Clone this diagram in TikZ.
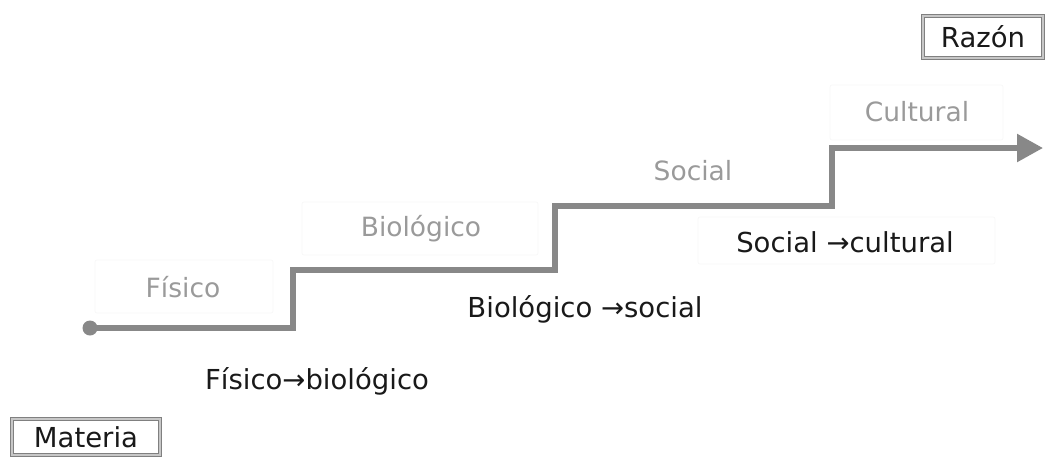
\documentclass[tikz,border=0pt]{standalone}
\usepackage{fontspec}
\setmainfont{DejaVu Sans}
\usetikzlibrary{arrows.meta}
\definecolor{stair}{HTML}{888888}
\definecolor{faint}{HTML}{9A9A9A}
\definecolor{faintbox}{HTML}{F6F6F6}
\tikzset{
  stage/.style={text=faint, font=\fontsize{26.5}{30}\selectfont, inner sep=0pt},
  trans/.style={text=black!90, font=\fontsize{27.5}{31}\selectfont, inner sep=0pt},
  framebox/.style={draw=black!50, line width=1.5pt, double=black!22, double distance=1.8pt, fill=white, font=\fontsize{27.5}{31}\selectfont, text=black!90},
  ghost/.style={draw=faintbox, line width=0.6pt, rounded corners=2pt},
  stairline/.style={draw=stair, line width=5.5pt},
}
\begin{document}
\begin{tikzpicture}[x=1pt,y=-1pt]
\useasboundingbox (0,0) rectangle (1051,461);
% faint boxes
\draw[ghost] (95,260) rectangle (273,313);
\draw[ghost] (302,202) rectangle (538,255);
\draw[ghost] (698,217) rectangle (995,264);
\draw[ghost] (830,85) rectangle (1003,140);
% staircase
\coordinate (s0) at (90,328);
\coordinate (s1) at (293,328);
\coordinate (s2) at (293,270);
\coordinate (s3) at (555,270);
\coordinate (s4) at (555,206);
\coordinate (s5) at (832,206);
\coordinate (s6) at (832,148);
\coordinate (s7) at (1043,148);
\draw[stairline, -{Triangle[length=26pt,width=27pt]}] (s0) -- (s1) -- (s2) -- (s3) -- (s4) -- (s5) -- (s6) -- (s7);
\fill[stair] (s0) circle (7.5pt);
% stage labels
\node[stage] (fis) at (183,287) {Físico};
\node[stage] (bio) at (421,229) {Biológico};
\node[stage] (soc) at (693,171) {Social};
\node[stage] (cul) at (917,112) {Cultural};
% transitions
\node[trans] (t1) at (317,381) {Físico→biológico};
\node[trans] (t2) at (585,309) {Biológico →social};
\node[trans] (t3) at (845,242) {Social →cultural};
% frames
\node[framebox, minimum width=148pt, minimum height=36pt] (mat) at (86,437) {Materia};
\node[framebox, minimum width=120pt, minimum height=42pt] (raz) at (983,37) {Razón};
\end{tikzpicture}
\end{document}
